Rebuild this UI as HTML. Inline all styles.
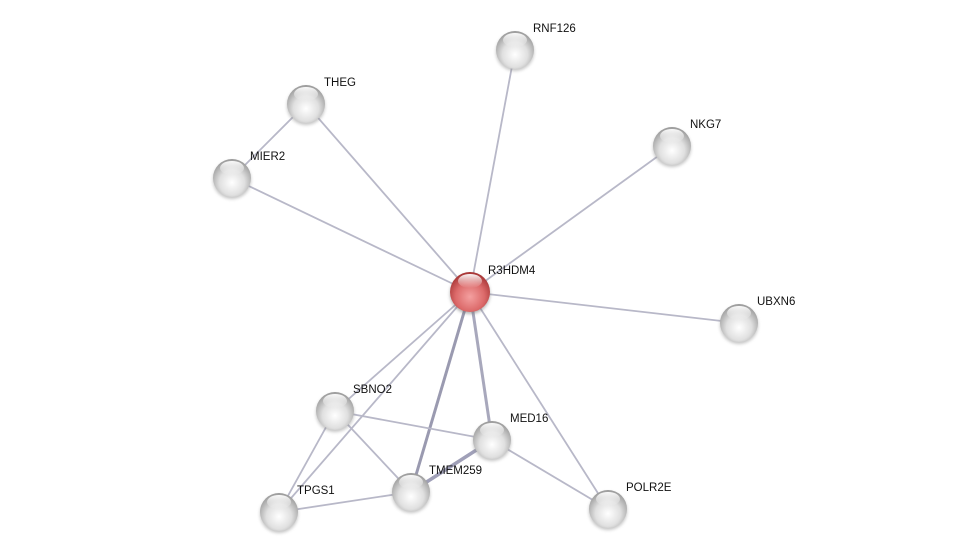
<!DOCTYPE html>
<html><head><meta charset="utf-8"><style>
html,body{margin:0;padding:0;background:#fff;width:975px;height:557px;overflow:hidden}
text{font-family:"Liberation Sans",sans-serif;font-size:11.5px;fill:#111}
</style></head><body>
<svg width="975" height="557" viewBox="0 0 975 557" xmlns="http://www.w3.org/2000/svg">
<defs>
<radialGradient id="g" cx="0.5" cy="0.62" r="0.6">
<stop offset="0" stop-color="#ffffff"/><stop offset="0.55" stop-color="#e0e0e0"/><stop offset="1" stop-color="#9c9c9c"/>
</radialGradient>
<radialGradient id="r" cx="0.5" cy="0.62" r="0.6">
<stop offset="0" stop-color="#f4a0a0"/><stop offset="0.6" stop-color="#dc6a6a"/><stop offset="1" stop-color="#a83636"/>
</radialGradient>
<linearGradient id="h" x1="0" y1="0" x2="0" y2="1">
<stop offset="0" stop-color="#fff" stop-opacity="0.95"/><stop offset="1" stop-color="#fff" stop-opacity="0"/>
</linearGradient>
<filter id="s" x="-30%" y="-30%" width="160%" height="160%"><feGaussianBlur stdDeviation="1.5"/></filter>
</defs>
<g stroke="#b8b8c8" stroke-width="1.8" fill="none">
<line x1="470" y1="292" x2="515" y2="50"/>
<line x1="470" y1="292" x2="306" y2="104"/>
<line x1="470" y1="292" x2="672" y2="146"/>
<line x1="470" y1="292" x2="232" y2="178"/>
<line x1="470" y1="292" x2="739" y2="323"/>
<line x1="470" y1="292" x2="335" y2="411"/>
<line x1="470" y1="292" x2="608" y2="509"/>
<line x1="470" y1="292" x2="279" y2="512"/>
<line x1="470" y1="292" x2="492" y2="440" stroke="#a8a8bc" stroke-width="3"/>
<line x1="470" y1="292" x2="411" y2="492" stroke="#9a9ab0" stroke-width="3"/>
<line x1="306" y1="104" x2="232" y2="178"/>
<line x1="335" y1="411" x2="492" y2="440"/>
<line x1="335" y1="411" x2="411" y2="492"/>
<line x1="335" y1="411" x2="279" y2="512"/>
<line x1="279" y1="512" x2="411" y2="492"/>
<line x1="411" y1="492" x2="492" y2="440" stroke="#a0a0b8" stroke-width="3.5"/>
<line x1="492" y1="440" x2="608" y2="509"/>
</g>
<g>
<g transform="translate(515,50)"><circle r="19" cy="2" fill="#888" opacity="0.5" filter="url(#s)"/><circle r="19" fill="url(#g)"/><ellipse cy="-10" rx="12" ry="7" fill="url(#h)"/></g>
<g transform="translate(306,104)"><circle r="19" cy="2" fill="#888" opacity="0.5" filter="url(#s)"/><circle r="19" fill="url(#g)"/><ellipse cy="-10" rx="12" ry="7" fill="url(#h)"/></g>
<g transform="translate(672,146)"><circle r="19" cy="2" fill="#888" opacity="0.5" filter="url(#s)"/><circle r="19" fill="url(#g)"/><ellipse cy="-10" rx="12" ry="7" fill="url(#h)"/></g>
<g transform="translate(232,178)"><circle r="19" cy="2" fill="#888" opacity="0.5" filter="url(#s)"/><circle r="19" fill="url(#g)"/><ellipse cy="-10" rx="12" ry="7" fill="url(#h)"/></g>
<g transform="translate(739,323)"><circle r="19" cy="2" fill="#888" opacity="0.5" filter="url(#s)"/><circle r="19" fill="url(#g)"/><ellipse cy="-10" rx="12" ry="7" fill="url(#h)"/></g>
<g transform="translate(335,411)"><circle r="19" cy="2" fill="#888" opacity="0.5" filter="url(#s)"/><circle r="19" fill="url(#g)"/><ellipse cy="-10" rx="12" ry="7" fill="url(#h)"/></g>
<g transform="translate(492,440)"><circle r="19" cy="2" fill="#888" opacity="0.5" filter="url(#s)"/><circle r="19" fill="url(#g)"/><ellipse cy="-10" rx="12" ry="7" fill="url(#h)"/></g>
<g transform="translate(411,492)"><circle r="19" cy="2" fill="#888" opacity="0.5" filter="url(#s)"/><circle r="19" fill="url(#g)"/><ellipse cy="-10" rx="12" ry="7" fill="url(#h)"/></g>
<g transform="translate(279,512)"><circle r="19" cy="2" fill="#888" opacity="0.5" filter="url(#s)"/><circle r="19" fill="url(#g)"/><ellipse cy="-10" rx="12" ry="7" fill="url(#h)"/></g>
<g transform="translate(608,509)"><circle r="19" cy="2" fill="#888" opacity="0.5" filter="url(#s)"/><circle r="19" fill="url(#g)"/><ellipse cy="-10" rx="12" ry="7" fill="url(#h)"/></g>
<g transform="translate(470,292)"><circle r="20" cy="2" fill="#666" opacity="0.5" filter="url(#s)"/><circle r="20" fill="url(#r)"/><ellipse cy="-11" rx="12" ry="7" fill="url(#h)"/></g>
</g>
<text x="533" y="32">RNF126</text>
<text x="324" y="86">THEG</text>
<text x="690" y="128">NKG7</text>
<text x="250" y="160">MIER2</text>
<text x="488" y="274">R3HDM4</text>
<text x="757" y="305">UBXN6</text>
<text x="353" y="393">SBNO2</text>
<text x="510" y="422">MED16</text>
<text x="429" y="474">TMEM259</text>
<text x="297" y="494">TPGS1</text>
<text x="626" y="491">POLR2E</text>
</svg>
</body></html>
